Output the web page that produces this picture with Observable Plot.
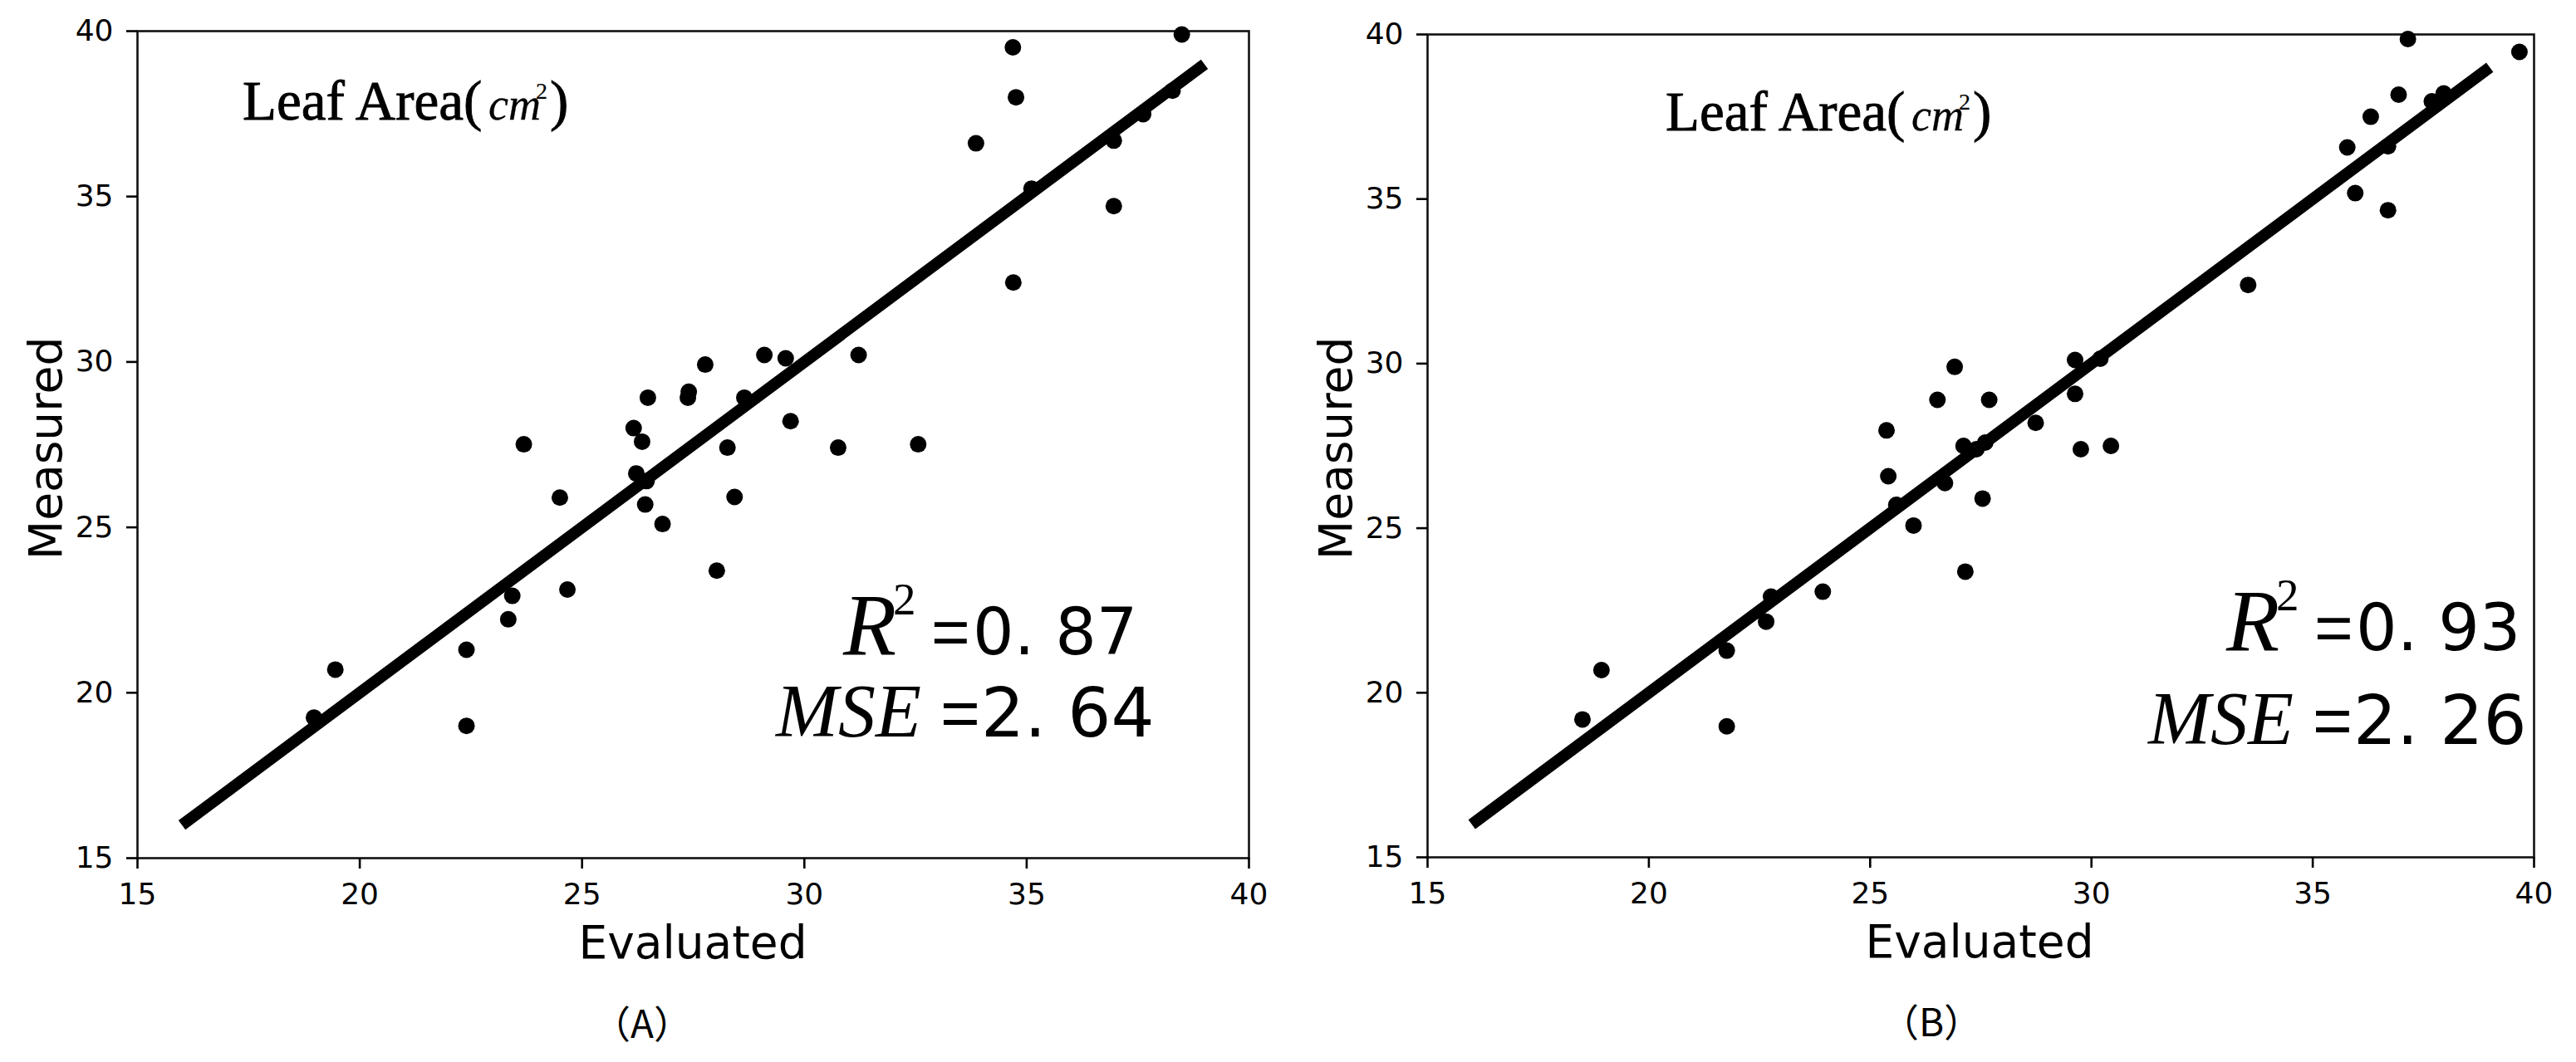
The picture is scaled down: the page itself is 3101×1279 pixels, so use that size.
<!DOCTYPE html>
<html>
<head>
<meta charset="utf-8">
<script src="https://cdn.jsdelivr.net/npm/d3@7"></script>
<script src="https://cdn.jsdelivr.net/npm/@observablehq/plot@0.6"></script>
<style>
  html, body { margin: 0; padding: 0; background: #fff; }
  #wrap { display: flex; width: 3101px; height: 1279px; background: #fff; }
</style>
</head>
<body>
<div id="wrap"></div>
<script>
// ---- data ----
const axisTicks = [15, 20, 25, 30, 35, 40];
const fitLine = [16, 39];

const evaluatedA = [18.97, 19.45, 22.40, 22.40, 23.34, 23.43, 23.69, 24.50, 24.67, 26.16, 26.22, 26.35, 26.42, 26.48, 26.45, 26.81, 27.38, 27.40, 27.77, 28.03, 28.27, 28.43, 28.65, 29.10, 29.58, 29.69, 30.76, 31.22, 32.56, 33.86, 34.69, 34.76, 34.70, 35.11, 36.96, 36.96, 37.62, 38.28, 38.49];
const measuredA  = [19.25, 20.70, 21.30, 19.00, 22.22, 22.93, 27.51, 25.90, 23.12, 28.00, 26.63, 27.59, 25.69, 28.92, 26.40, 25.10, 28.92, 29.10, 29.92, 23.69, 27.41, 25.92, 28.92, 30.21, 30.11, 28.21, 27.41, 30.21, 27.51, 36.61, 39.51, 38.00, 32.40, 35.24, 36.69, 34.71, 37.49, 38.20, 39.90];

const evaluatedB = [18.50, 18.93, 21.76, 21.76, 22.65, 22.76, 23.93, 25.37, 25.41, 25.59, 25.98, 26.52, 26.69, 26.91, 27.11, 27.15, 27.40, 27.54, 27.69, 27.60, 28.74, 29.63, 29.63, 29.76, 30.44, 30.20, 33.54, 35.78, 35.96, 36.31, 36.70, 36.70, 36.94, 37.15, 37.69, 37.96, 39.67];
const measuredB  = [19.19, 20.69, 21.28, 18.98, 22.16, 22.92, 23.07, 27.97, 26.58, 25.71, 25.08, 28.90, 26.37, 29.90, 27.50, 23.68, 27.40, 25.90, 28.90, 27.60, 28.20, 30.11, 29.08, 27.40, 27.50, 30.15, 32.39, 36.57, 35.18, 37.50, 34.66, 36.60, 38.17, 39.86, 37.97, 38.21, 39.47];

const panelTitle = "Leaf Area(";
const unitText = "cm";
const r2Values = ["0. 87", "0. 93"];
const mseValues = ["2. 64", "2. 26"];
const captions = ["（A）", "（B）"];
const xLabel = "Evaluated";
const yLabel = "Measured";

// ---- layout per panel ----
const panels = [
  {ev: evaluatedA, me: measuredA, width: 1550, ml: 165, mr: 47, mt: 37, mb: 246,
   title: [292, 144], r2: [1015, 788], mse: [931, 887], xl: [834, 1154], yl: [74, 540], cap: [773, 1250]},
  {ev: evaluatedB, me: measuredB, width: 1551, ml: 168, mr: 51, mt: 41, mb: 247,
   title: [455, 157], r2: [1130, 783], mse: [1033, 896], xl: [833, 1153], yl: [77, 540], cap: [775, 1248]}
];

const serif = "'Liberation Serif', 'DejaVu Serif', serif";
const sans = "'DejaVu Sans', sans-serif";
const arial = "'Liberation Sans', sans-serif";

panels.forEach((p, i) => {
  const pts = p.ev.map((e, k) => ({e, m: p.me[k]}));
  const linePts = fitLine.map(v => ({e: v, m: v}));
  const svg = Plot.plot({
    width: p.width,
    height: 1279,
    marginLeft: p.ml,
    marginRight: p.mr,
    marginTop: p.mt,
    marginBottom: p.mb,
    style: {background: "#fff", color: "#000", fontFamily: "DejaVu Sans"},
    x: {domain: [15, 40]},
    y: {domain: [15, 40]},
    marks: [
      Plot.frame({stroke: "#111", strokeWidth: 2.6}),
      Plot.axisX({ticks: axisTicks, tickSize: 13, tickPadding: 17, fontSize: 36, strokeWidth: 2.6, label: null, tickFormat: d => String(d)}),
      Plot.axisY({ticks: axisTicks, tickSize: 13, tickPadding: 16, fontSize: 36, strokeWidth: 2.6, label: null, tickFormat: d => String(d)}),
      Plot.dot(pts, {x: "e", y: "m", r: 10, fill: "#000", stroke: "none"}),
      Plot.line(linePts, {x: "e", y: "m", stroke: "#000", strokeWidth: 14, strokeLinecap: "butt"})
    ]
  });

  const s = d3.select(svg);
  // Title: Leaf Area(cm²)
  const [tx, ty] = p.title;
  const t = s.append("text").attr("y", ty).attr("fill", "#000").attr("stroke", "#000").attr("stroke-width", 0.9)
    .attr("font-family", serif).attr("text-anchor", "start");
  t.append("tspan").attr("x", tx).attr("font-size", 67).text(panelTitle);
  t.append("tspan").attr("x", tx + 296).attr("font-size", 54).attr("font-style", "italic").attr("stroke-width", 0.3).text(unitText);
  t.append("tspan").attr("x", tx + 353).attr("y", ty - 25).attr("font-size", 28).attr("stroke-width", 0.2).text("2");
  t.append("tspan").attr("x", tx + 370).attr("y", ty).attr("font-size", 67).text(")");

  // R² line
  const [rx, ry] = p.r2;
  const r = s.append("text").attr("y", ry).attr("fill", "#000").attr("text-anchor", "start");
  r.append("tspan").attr("x", rx).attr("font-family", serif).attr("font-style", "italic").attr("font-size", 105).text("R");
  r.append("tspan").attr("x", rx + 60).attr("y", ry - 48).attr("font-family", serif).attr("font-size", 55).text("2");
  r.append("tspan").attr("x", rx + 106).attr("y", ry).attr("font-family", arial).attr("font-size", 80).text("=");
  r.append("tspan").attr("x", rx + 156).attr("font-family", sans).attr("font-size", 78).text(r2Values[i]);

  // MSE line
  const [mx, my] = p.mse;
  const m = s.append("text").attr("y", my).attr("fill", "#000").attr("text-anchor", "start");
  m.append("tspan").attr("x", mx + 3).attr("font-family", serif).attr("font-style", "italic").attr("font-size", 90).text("MSE");
  m.append("tspan").attr("x", mx + 201).attr("font-family", arial).attr("font-size", 82).text("=");
  m.append("tspan").attr("x", mx + 250).attr("font-family", sans).attr("font-size", 82).text(mseValues[i]);

  // axis labels
  s.append("text").attr("x", p.xl[0]).attr("y", p.xl[1]).attr("text-anchor", "middle")
    .attr("font-family", sans).attr("font-size", 55).attr("fill", "#000").text(xLabel);
  s.append("text").attr("transform", `translate(${p.yl[0]},${p.yl[1]}) rotate(-90)`).attr("text-anchor", "middle")
    .attr("font-family", sans).attr("font-size", 55).attr("fill", "#000").text(yLabel);

  // caption
  s.append("text").attr("x", p.cap[0]).attr("y", p.cap[1]).attr("text-anchor", "middle")
    .attr("font-family", "'Noto Sans CJK SC', sans-serif").attr("font-size", 46).attr("fill", "#000").text(captions[i]);

  document.getElementById("wrap").appendChild(svg);
});
</script>
</body>
</html>
